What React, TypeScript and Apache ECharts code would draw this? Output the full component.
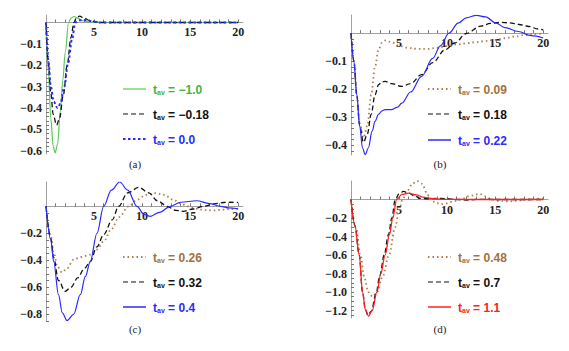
import React, { useEffect, useRef } from 'react';
import * as echarts from 'echarts';

// ---------- data ----------
const X_LABELS = [5, 10, 15, 20];
const X_TICKS = [1,2,3,4,5,6,7,8,9,10,11,12,13,14,15,16,17,18,19,20];

const A_Y_LABELS = [-0.1, -0.2, -0.3, -0.4, -0.5, -0.6];
const B_Y_LABELS = [-0.1, -0.2, -0.3, -0.4];
const C_Y_LABELS = [-0.2, -0.4, -0.6, -0.8];
const D_Y_LABELS = [-0.2, -0.4, -0.6, -0.8, -1.0, -1.2];

const A_LEGEND = ['−1.0', '−0.18', '0.0'];
const B_LEGEND = ['0.09', '0.18', '0.22'];
const C_LEGEND = ['0.26', '0.32', '0.4'];
const D_LEGEND = ['0.48', '0.7', '1.1'];

// panel (a)
const aTm100 = [[0,0],[0.25,-0.23],[0.5,-0.45],[0.75,-0.58],[0.95,-0.61],[1.2,-0.57],[1.5,-0.41],[1.75,-0.27],[2.0,-0.14],[2.35,0],[2.6,0.02],[2.9,0.028],[3.3,0.02],[3.8,0.008],[4.5,0.002],[5.5,0],[10,0],[15,0],[20,0]];
const aTm018 = [[0,0],[0.25,-0.19],[0.5,-0.33],[0.75,-0.43],[1.1,-0.48],[1.4,-0.45],[1.8,-0.34],[2.2,-0.2],[2.6,-0.07],[2.9,0],[3.2,0.025],[3.5,0.03],[3.9,0.022],[4.5,0.01],[5.2,0.003],[6,0],[10,0],[15,0],[20,0]];
const aT000 = [[0,0],[0.25,-0.18],[0.5,-0.3],[0.8,-0.37],[1.2,-0.4],[1.5,-0.38],[1.9,-0.3],[2.3,-0.19],[2.7,-0.08],[3.05,0],[3.4,0.01],[4,0.012],[4.8,0.005],[5.5,0],[10,0],[15,0],[20,0]];

// panel (b)
const bT009 = [[0,0],[0.3,-0.1],[0.6,-0.22],[0.9,-0.32],[1.3,-0.374],[1.7,-0.33],[2.1,-0.22],[2.5,-0.12],[2.86,-0.06],[3.2,-0.035],[3.55,-0.026],[4.2,-0.032],[5,-0.045],[6,-0.053],[7,-0.056],[8,-0.056],[9,-0.052],[10,-0.046],[11,-0.04],[12,-0.036],[13,-0.032],[14,-0.028],[15,-0.024],[16,-0.018],[17,-0.012],[18,-0.007],[19,-0.003],[20,-0.001]];
const bT018 = [[0,0],[0.3,-0.1],[0.6,-0.22],[0.9,-0.33],[1.3,-0.39],[1.7,-0.36],[2.1,-0.29],[2.5,-0.22],[2.86,-0.184],[3.2,-0.174],[3.55,-0.172],[4.2,-0.18],[5.3,-0.19],[6.2,-0.18],[7.35,-0.148],[8.5,-0.105],[9.8,-0.059],[10.8,-0.035],[12.0,-0.001],[13.5,0.025],[14.5,0.035],[15.5,0.039],[16.5,0.037],[17.5,0.031],[18.5,0.024],[19.5,0.015],[20,0.012]];
const bT022 = [[0,0],[0.3,-0.1],[0.6,-0.22],[0.9,-0.33],[1.2,-0.41],[1.48,-0.434],[1.8,-0.41],[2.2,-0.35],[2.5,-0.315],[2.86,-0.29],[3.2,-0.278],[3.55,-0.273],[4.2,-0.273],[4.8,-0.265],[5.3,-0.25],[6.2,-0.21],[7.35,-0.154],[8.5,-0.09],[9.3,-0.045],[10.2,0],[11.15,0.036],[12,0.055],[13.05,0.064],[14,0.058],[15.1,0.036],[16,0.02],[17.4,0.006],[18.75,-0.009],[20,-0.017]];

// panel (c)
const cT026 = [[0,0],[0.5,-0.22],[0.8,-0.34],[1.2,-0.45],[1.67,-0.49],[2.2,-0.46],[2.87,-0.395],[3.4,-0.383],[3.9,-0.37],[4.6,-0.358],[5.3,-0.32],[6,-0.26],[6.8,-0.17],[7.6,-0.08],[8.6,0],[9.5,0.05],[10.4,0.085],[11.4,0.098],[12.3,0.085],[13.2,0.05],[14,0.022],[14.7,0],[15.6,-0.018],[16.5,-0.028],[17.45,-0.03],[18.5,-0.025],[19.3,-0.02],[20,-0.018]];
const cT032 = [[0,0],[0.5,-0.24],[0.8,-0.38],[1.3,-0.55],[2.0,-0.63],[2.6,-0.6],[3.3,-0.53],[4.0,-0.46],[4.6,-0.41],[5.3,-0.3],[6.0,-0.21],[6.9,-0.1],[7.56,0],[8.5,0.1],[9.65,0.14],[10.7,0.1],[11.6,0.04],[12.6,0],[13.5,-0.03],[14.3,-0.037],[15.3,-0.02],[16.4,0],[17.5,0.018],[18.5,0.028],[19.2,0.03],[20,0.028]];
const cT040 = [[0,0],[0.5,-0.25],[0.8,-0.41],[1.3,-0.655],[1.7,-0.79],[2.19,-0.847],[2.88,-0.8],[3.57,-0.655],[4.1,-0.52],[4.6,-0.41],[5.3,-0.2],[6,0],[6.8,0.12],[7.67,0.18],[8.5,0.12],[9.47,0],[10.2,-0.06],[10.86,-0.074],[11.8,-0.045],[12.95,0],[14,0.03],[15.7,0.041],[17,0.02],[18.2,0],[19,-0.012],[20,-0.018]];

// panel (d)
const dT048 = [[0,0],[0.5,-0.3],[0.98,-0.6],[1.4,-0.85],[1.8,-1.0],[2.25,-1.05],[2.7,-1.0],[3.3,-0.83],[3.95,-0.6],[4.6,-0.3],[5.0,-0.12],[5.35,0],[5.9,0.1],[6.4,0.17],[6.87,0.2],[7.4,0.17],[7.9,0.07],[8.25,0],[8.9,-0.04],[9.65,-0.05],[10.5,-0.025],[11.4,0],[12.4,0.04],[13.4,0.06],[14.1,0.03],[14.6,0],[15.5,-0.015],[16.4,-0.02],[17.5,-0.01],[18.5,0],[19.5,0.008],[20,0.01]];
const dT070 = [[0,0],[0.4,-0.28],[0.86,-0.6],[1.2,-1.0],[1.5,-1.19],[1.75,-1.25],[2.1,-1.21],[2.6,-1.02],[3.0,-0.82],[3.45,-0.6],[3.9,-0.38],[4.25,-0.2],[4.6,0],[5.0,0.06],[5.45,0.087],[6,0.07],[6.7,0.035],[7.2,0.012],[8,0.008],[9,0.012],[9.8,0.01],[11,0],[12,-0.005],[13.5,0.002],[15,0],[20,0]];
const dT110 = [[0,0],[0.4,-0.28],[0.86,-0.6],[1.2,-1.0],[1.5,-1.19],[1.83,-1.26],[2.2,-1.2],[2.7,-1.0],[3.1,-0.8],[3.55,-0.6],[4.0,-0.38],[4.35,-0.2],[4.75,0],[5.3,0.055],[6.0,0.068],[6.8,0.05],[7.5,0.025],[8.5,0.008],[10,0.001],[12,0],[20,0]];

// ---------- styling ----------
const GREEN_LINE = '#5ac85a';
const GREEN_TEXT = '#3fb53f';
const BROWN_LINE = '#a9814f';
const BROWN_TEXT = '#a0723f';
const BLUE = '#2b2bff';
const RED = '#ff2020';
const BLACK = '#111111';

const fmtY = (v: number) => (v < 0 ? '−' : '') + Math.abs(v).toFixed(1);

const yTicks = (min: number, step: number) => {
  const out: number[] = [];
  for (let k = 1; k * step <= -min + 1e-9; k++) out.push(-Math.round(k * step * 1000) / 1000);
  return out;
};

export default function App() {
  const ref = useRef<HTMLDivElement>(null);
  useEffect(() => {
    if (!ref.current) return;
    const chart = echarts.init(ref.current, undefined, { renderer: 'svg' });

    const panels = [
      { left: 46, top: 15, height: 139, min: -0.615, max: 0.035, labels: A_Y_LABELS, tickStep: 0.02 },
      { left: 351, top: 15, height: 140, min: -0.435, max: 0.065, labels: B_Y_LABELS, tickStep: 0.02 },
      { left: 46, top: 182, height: 139, min: -0.85, max: 0.18, labels: C_Y_LABELS, tickStep: 0.05 },
      { left: 351, top: 181, height: 137, min: -1.28, max: 0.2, labels: D_Y_LABELS, tickStep: 0.05 },
    ];

    const tickFont = { fontFamily: 'Liberation Serif', fontWeight: 'bold' as const, fontSize: 12, color: '#222' };

    const grid = panels.map((p) => ({ left: p.left, top: p.top, width: 197, height: p.height }));
    const xAxis = panels.map((p, i) => ({
      type: 'value', gridIndex: i, min: 0, max: 20.5, position: 'bottom',
      // put the whole axis (line, ticks, labels) at y = 0
      offset: -p.height * (-p.min) / (p.max - p.min),
      axisLine: { show: true, onZero: false, lineStyle: { color: '#a0a0a0', width: 1 } },
      axisTick: { show: true, inside: true, length: 3, customValues: X_TICKS, lineStyle: { color: '#777' } },
      axisLabel: { ...tickFont, margin: 4, customValues: X_LABELS, formatter: (v: number) => String(v) },
      splitLine: { show: false },
    }));
    const yAxis = panels.map((p, i) => ({
      type: 'value', gridIndex: i, min: p.min, max: p.max,
      axisLine: { show: true, onZero: false, lineStyle: { color: '#a0a0a0', width: 1 } },
      axisTick: { show: true, inside: true, length: 3, customValues: yTicks(p.min, p.tickStep), lineStyle: { color: '#777' } },
      axisLabel: { ...tickFont, margin: 4, customValues: p.labels, formatter: fmtY },
      splitLine: { show: false },
    }));

    const mk = (i: number, data: number[][], color: string, width: number, type: any) => ({
      type: 'line', xAxisIndex: i, yAxisIndex: i, data, showSymbol: false, smooth: 0.35,
      smoothMonotone: 'x', silent: true,
      lineStyle: { color, width, type, cap: 'butt' },
    });

    const series = [
      mk(0, aTm100, GREEN_LINE, 1.2, 'solid'),
      mk(0, aTm018, BLACK, 1.3, [5, 3]),
      mk(0, aT000, BLUE, 2, [2.5, 2.5]),
      mk(1, bT009, BROWN_LINE, 1.8, [1.5, 3]),
      mk(1, bT018, BLACK, 1.3, [5, 3]),
      mk(1, bT022, BLUE, 1.2, 'solid'),
      mk(2, cT026, BROWN_LINE, 1.8, [1.5, 3]),
      mk(2, cT032, BLACK, 1.3, [5, 3]),
      mk(2, cT040, BLUE, 1.2, 'solid'),
      mk(3, dT048, BROWN_LINE, 1.8, [1.5, 3]),
      mk(3, dT070, BLACK, 1.3, [5, 3]),
      mk(3, dT110, RED, 1.3, 'solid'),
    ];

    const legendItem = (x: number, y: number, val: string, lineColor: string, textColor: string, width: number, dash: any) => [
      { type: 'line', shape: { x1: x, y1: y, x2: x + 23, y2: y }, style: { stroke: lineColor, lineWidth: width, lineDash: dash }, silent: true },
      {
        type: 'text', x: x + 30, y, silent: true,
        style: {
          text: `{t|t}{s|av}{v| = ${val}}`,
          verticalAlign: 'middle',
          rich: {
            t: { fontFamily: 'Liberation Sans', fontWeight: 'bold', fontSize: 12, fill: textColor, lineHeight: 14, verticalAlign: 'bottom' },
            s: { fontFamily: 'Liberation Sans', fontWeight: 'bold', fontSize: 7, fill: textColor, lineHeight: 14, verticalAlign: 'bottom', padding: [5, 0, 0, 0] },
            v: { fontFamily: 'Liberation Sans', fontWeight: 'bold', fontSize: 12, fill: textColor, lineHeight: 14, verticalAlign: 'bottom' },
          },
        },
      },
    ];

    const legendSet = (x: number, ys: number[], labels: string[], items: [string, string, number, any][]) =>
      labels.flatMap((l, k) => legendItem(x, ys[k], l, items[k][0], items[k][1], items[k][2], items[k][3]));

    const caption = (x: number, y: number, t: string) => ({
      type: 'text', x, y, silent: true,
      style: { text: t, fontFamily: 'Liberation Serif', fontSize: 11, fill: '#222', align: 'center', verticalAlign: 'middle' },
    });

    const graphic = [
      ...legendSet(123, [89, 114, 139], A_LEGEND, [
        [GREEN_LINE, GREEN_TEXT, 1.2, null], [BLACK, BLACK, 1.2, [5, 3]], [BLUE, BLUE, 2, [2.5, 2.5]]]),
      ...legendSet(428, [89, 114, 140], B_LEGEND, [
        [BROWN_LINE, BROWN_TEXT, 1.8, [1.5, 3]], [BLACK, BLACK, 1.2, [5, 3]], [BLUE, BLUE, 1.5, null]]),
      ...legendSet(123, [257, 282, 307], C_LEGEND, [
        [BROWN_LINE, BROWN_TEXT, 1.8, [1.5, 3]], [BLACK, BLACK, 1.2, [5, 3]], [BLUE, BLUE, 1.5, null]]),
      ...legendSet(428, [257, 282, 307], D_LEGEND, [
        [BROWN_LINE, BROWN_TEXT, 1.8, [1.5, 3]], [BLACK, BLACK, 1.2, [5, 3]], [RED, RED, 1.5, null]]),
      caption(135, 164, '(a)'),
      caption(440, 164, '(b)'),
      caption(135, 329, '(c)'),
      caption(440, 329, '(d)'),
    ];

    chart.setOption({
      animation: false,
      backgroundColor: '#ffffff',
      grid, xAxis, yAxis, series, graphic,
    } as any);
    return () => chart.dispose();
  }, []);

  return <div ref={ref} style={{ position: 'fixed', left: 0, top: 0, width: 569, height: 351, background: '#fff' }} />;
}
